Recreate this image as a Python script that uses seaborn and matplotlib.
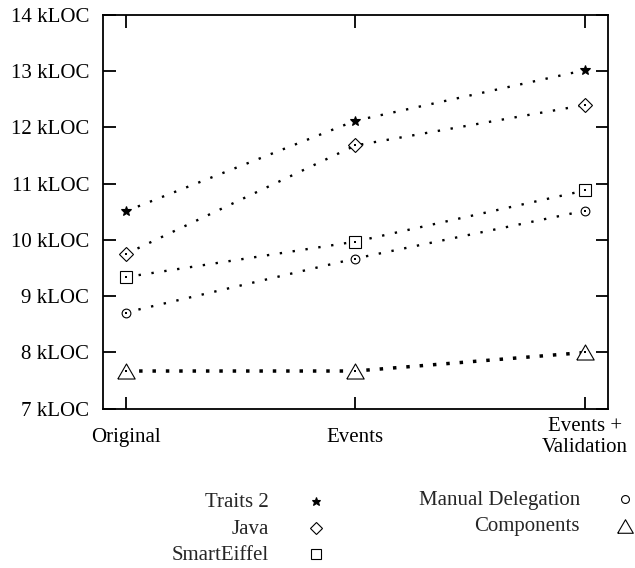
import numpy as np
import pandas as pd
import matplotlib
matplotlib.use("Agg")
import matplotlib.pyplot as plt
from matplotlib.lines import Line2D
import seaborn as sns

stages = ["Original", "Events", "Events +\nValidation"]
series = ["Traits 2", "Java", "SmartEiffel", "Manual Delegation", "Components"]
traits2 = [10.51, 12.12, 13.02]
java = [9.75, 11.68, 12.40]
smarteiffel = [9.34, 9.97, 10.88]
manual_delegation = [8.71, 9.67, 10.52]
components = [7.67, 7.67, 8.00]
yticks = [7, 8, 9, 10, 11, 12, 13, 14]

values = [traits2, java, smarteiffel, manual_delegation, components]
df = pd.DataFrame({
    "stage": np.tile(np.arange(len(stages)), len(series)),
    "kloc": np.concatenate(values),
    "system": np.repeat(series, len(stages)),
})

tri = [(-1, -0.866), (1, -0.866), (0, 0.866), (-1, -0.866)]
styles = {
    "Traits 2": dict(marker="*", ms=7.2, face="black", lw=1.7, dash=(1, 4.5)),
    "Java": dict(marker="D", ms=7.2, face="white", lw=1.7, dash=(1, 4.5)),
    "SmartEiffel": dict(marker="s", ms=8.4, face="white", lw=1.7, dash=(1, 4.5)),
    "Manual Delegation": dict(marker="o", ms=6.3, face="white", lw=1.7, dash=(1, 4.5)),
    "Components": dict(marker=tri, ms=12.5, face="white", lw=2.5, dash=(1, 2.85)),
}

sns.set_style("ticks")
plt.rcParams["font.family"] = ["Liberation Serif", "DejaVu Serif"]
plt.rcParams["font.size"] = 15

fig = plt.figure(figsize=(6.35, 5.68), dpi=100)
ax = fig.add_axes([103 / 635, 1 - 408.7 / 568, 504.7 / 635, 393.7 / 568])

for name in series:
    st = styles[name]
    sub = df[df["system"] == name]
    sns.lineplot(data=sub, x="stage", y="kloc", ax=ax, color="black",
                 linewidth=st["lw"], linestyle=(0, st["dash"]), zorder=2)
    sns.lineplot(data=sub, x="stage", y="kloc", ax=ax, linestyle="none",
                 marker=st["marker"], markersize=st["ms"],
                 markerfacecolor=st["face"], markeredgecolor="black",
                 markeredgewidth=0.8, zorder=3)
    sns.scatterplot(data=sub, x="stage", y="kloc", ax=ax, marker="s", s=3,
                    color="black", linewidth=0, zorder=4)

ax.set_xlim(-0.099, 2.099)
ax.set_ylim(7, 14)
ax.set_xticks(range(len(stages)))
ax.set_xticklabels(stages, linespacing=1.1)
ax.set_yticks(yticks)
ax.set_yticklabels([f"{v} kLOC" for v in yticks])
ax.set_xlabel("")
ax.set_ylabel("")
for s in ax.spines.values():
    s.set_visible(True)
    s.set_linewidth(1.3)
    s.set_color("black")
ax.tick_params(axis="both", direction="in", length=9, width=1.3, colors="black",
               labelsize=15, top=True, right=True)
ax.tick_params(axis="y", pad=10)
ax.tick_params(axis="x", pad=20.5)
for lbl in ax.get_xticklabels():
    lbl.set_va("center")

# legend, two columns: label right-aligned, marker after it
legend_cols = [
    (269 / 635, 316 / 635, ["Traits 2", "Java", "SmartEiffel"], [507, 533.5, 560]),
    (580 / 635, 625 / 635, ["Manual Delegation", "Components"], [505, 531.5]),
]
for tx, mx, names, bases in legend_cols:
    for name, b in zip(names, bases):
        st = styles[name]
        fig.text(tx, 1 - b / 568, name, ha="right", va="baseline", fontsize=15)
        fig.add_artist(Line2D([mx], [1 - (b - 6) / 568], transform=fig.transFigure,
                              marker=st["marker"], markersize=st["ms"] * 0.9,
                              markerfacecolor=st["face"], markeredgecolor="black",
                              markeredgewidth=0.8, linestyle="none"))

fig.savefig("out.png", dpi=100)
